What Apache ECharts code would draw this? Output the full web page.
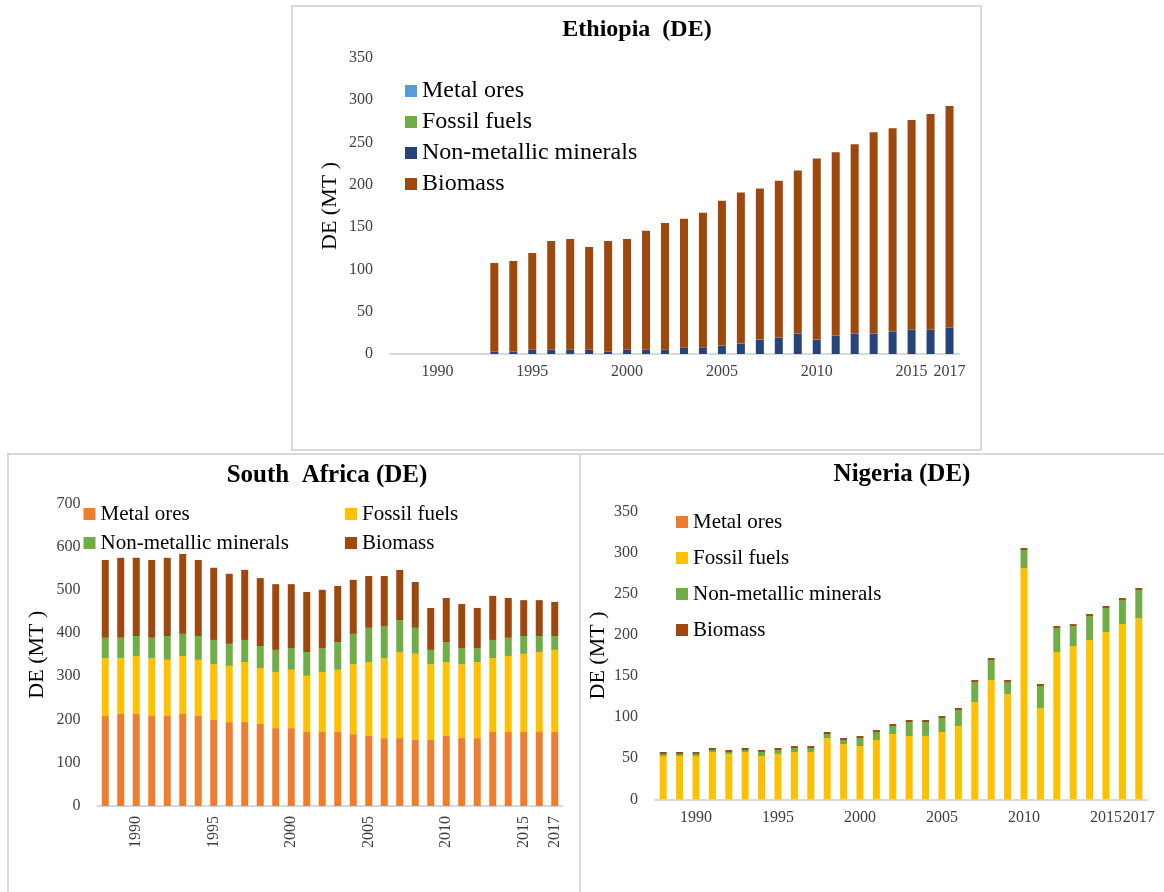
<!DOCTYPE html>
<html>
<head>
<meta charset="utf-8">
<script src="https://cdn.jsdelivr.net/npm/echarts@6/dist/echarts.min.js"></script>
<style>
html, body { margin: 0; padding: 0; background: #fff; }
#chart { width: 1164px; height: 892px; }
</style>
</head>
<body>
<div id="chart"></div>
<script>
// Domestic extraction (DE) by material group, million tonnes, 1988–2017
const years = ['1988','1989','1990','1991','1992','1993','1994','1995','1996','1997',
               '1998','1999','2000','2001','2002','2003','2004','2005','2006','2007',
               '2008','2009','2010','2011','2012','2013','2014','2015','2016','2017'];
const shownYears = ['1990','1995','2000','2005','2010','2015','2017'];
const materials = ['Metal ores', 'Fossil fuels', 'Non-metallic minerals', 'Biomass'];

// Ethiopia (no data before 1993)
const ethMetal    = [null,null,null,null,null,0,0,0,0,0,0,0,0,0,0,0,0,0,0,0,0,0,0,0,0,0,0,0,0,0];
const ethFossil   = [null,null,null,null,null,0,0,0,0,0,0,0,0,0,0,0,0,0,0,0,0,0,0,0,0,0,0,0,0,0];
const ethNonMet   = [null,null,null,null,null,3,3,5,5,5,5,3,5,5,5,7.5,7.5,10,12.3,17,19.4,24.2,17,21.8,24.2,24.2,26.6,29,29,31.3];
const ethBiomass  = [null,null,null,null,null,104.5,107,114.4,128.7,131,121.6,130.7,131,140.6,150,152.4,159.5,171.3,178.6,178.6,185.6,192.8,214.3,216.7,223.8,238.1,240.4,247.6,254.7,262];

// South Africa
const saMetal   = [208,213,213,208,208,213,208,199,194,194,190,180,180,171,171,171,166,162,157,157,153,153,162,157,157,171,171,171,171,171];
const saFossil  = [134,129,134,134,130,134,130,129,130,139,129,130,135,130,139,144,162,171,185,199,199,175,171,171,176,171,176,181,185,190];
const saNonMet  = [47,47,46,47,55,51,55,56,51,51,51,51,50,55,55,64,70,79,74,74,60,33,46,37,32,42,42,41,37,32];
const saBiomass = [180,185,181,180,181,185,176,167,162,162,157,152,148,139,135,130,125,120,116,116,106,97,102,102,93,102,92,83,83,79];

// Nigeria
const ngMetal   = [0,0,0,0,0,0,0,0,0,0,0,0,0,0,0,0,0,0,0,0,0,0,0,0,0,0,0,0,0,0];
const ngFossil  = [52.7,52.7,52.7,57.6,55.2,57.6,52.7,55.2,57.6,57.6,74.6,67.3,64.9,72.2,79.5,77.1,77.1,81.9,89.2,118.4,145.2,128.1,281.4,111.1,179.2,186.5,193.8,203.6,213.3,220.6];
const ngNonMet  = [2.5,2.5,2.5,2.4,2.4,2.4,4.9,4.8,4.8,4.8,4.9,4.9,9.7,9.7,9.7,17,17,17,19.5,24.3,24.3,14.6,21.9,26.8,29.2,24.3,29.2,29.2,29.2,34.1];
const ngBiomass = [2.4,2.4,2.3,2.4,2.4,2.4,2.4,2.4,2.4,2.4,2.4,2.4,2.4,2.4,2.4,2.4,2.4,2.4,2.4,2.4,2.4,2.4,2.4,2.4,2.4,2.4,2.4,2.4,2.4,2.4];

const ethColors = ['#5B9BD5', '#70AD47', '#264478', '#9E480E'];
const colors    = ['#ED7D31', '#FFC000', '#70AD47', '#9E480E'];

const FONT = '"Liberation Serif", "Times New Roman", serif';
const LABEL_COLOR = '#404040';
const AXIS_LINE = '#D9D9D9';

function xAxisFor(gridIndex, rotate) {
  return {
    type: 'category', gridIndex, data: years,
    axisTick: { show: false },
    axisLine: { lineStyle: { color: AXIS_LINE, width: 2 } },
    axisLabel: {
      interval: (i, v) => shownYears.includes(v),
      rotate: rotate, margin: 10,
      fontFamily: FONT, fontSize: 16, color: LABEL_COLOR
    }
  };
}
function yAxisFor(gridIndex, max, interval, nameGap) {
  return {
    type: 'value', gridIndex, min: 0, max, interval,
    splitLine: { show: false },
    axisLine: { show: false }, axisTick: { show: false },
    axisLabel: { margin: 17, fontFamily: FONT, fontSize: 16, color: LABEL_COLOR },
    name: 'DE (MT )', nameLocation: 'middle', nameRotate: 90, nameGap,
    nameTextStyle: { fontFamily: FONT, fontSize: 22, color: '#000' }
  };
}
function stackSeries(idx, stack, arrays, palette, barWidth) {
  return arrays.map((arr, k) => ({
    type: 'bar', name: materials[k], stack, xAxisIndex: idx, yAxisIndex: idx,
    data: arr, barWidth, itemStyle: { color: palette[k] },
    emphasis: { disabled: true }
  }));
}
function legendFor(left, top, names, palette, fontSize, gap) {
  return {
    left, top, orient: 'vertical', icon: 'rect', itemWidth: 12, itemHeight: 12,
    itemGap: gap, selectedMode: false, padding: 0,
    textStyle: { fontFamily: FONT, fontSize, lineHeight: fontSize, color: '#000' },
    data: names.map(n => ({ name: n, itemStyle: { color: palette[materials.indexOf(n)] } }))
  };
}
function titleFor(text, x, y, size) {
  return {
    text, left: x, top: y, padding: 0, textAlign: 'center', textVerticalAlign: 'middle',
    textStyle: { fontFamily: FONT, fontSize: size, fontWeight: 'bold', color: '#000' }
  };
}

const chart = echarts.init(document.getElementById('chart'), null, { renderer: 'canvas' });
chart.setOption({
  animation: false,
  backgroundColor: '#fff',
  graphic: [
    { type: 'rect', shape: { x: 292, y: 6, width: 689, height: 444 }, style: { fill: 'none', stroke: AXIS_LINE, lineWidth: 2 }, silent: true },
    { type: 'rect', shape: { x: 8, y: 454, width: 572, height: 460 }, style: { fill: 'none', stroke: AXIS_LINE, lineWidth: 2 }, silent: true },
    { type: 'rect', shape: { x: 580, y: 454, width: 600, height: 460 }, style: { fill: 'none', stroke: AXIS_LINE, lineWidth: 2 }, silent: true }
  ],
  title: [
    titleFor('Ethiopia  (DE)', 637, 30, 24),
    titleFor('South  Africa (DE)', 327, 476, 25),
    titleFor('Nigeria (DE)', 902, 475, 25)
  ],
  legend: [
    legendFor(405, 79, materials, ethColors, 24, 7),
    legendFor(83.5, 503.5, ['Metal ores', 'Non-metallic minerals'], colors, 21, 8),
    legendFor(345, 503.5, ['Fossil fuels', 'Biomass'], colors, 21, 8),
    legendFor(676, 511.5, materials, colors, 21, 15)
  ],
  grid: [
    { left: 390, top: 58, width: 569, height: 296 },
    { left: 97.5, top: 503.3, width: 465, height: 302.7 },
    { left: 655, top: 511.7, width: 492, height: 287.6 }
  ],
  xAxis: [xAxisFor(0, 0), xAxisFor(1, 90), xAxisFor(2, 0)],
  yAxis: [yAxisFor(0, 350, 50, 49), yAxisFor(1, 700, 100, 49), yAxisFor(2, 350, 50, 46)],
  series: [
    ...stackSeries(0, 'eth', [ethMetal, ethFossil, ethNonMet, ethBiomass], ethColors, 8),
    ...stackSeries(1, 'sa', [saMetal, saFossil, saNonMet, saBiomass], colors, 7),
    ...stackSeries(2, 'ng', [ngMetal, ngFossil, ngNonMet, ngBiomass], colors, 7)
  ]
});
</script>
</body>
</html>
